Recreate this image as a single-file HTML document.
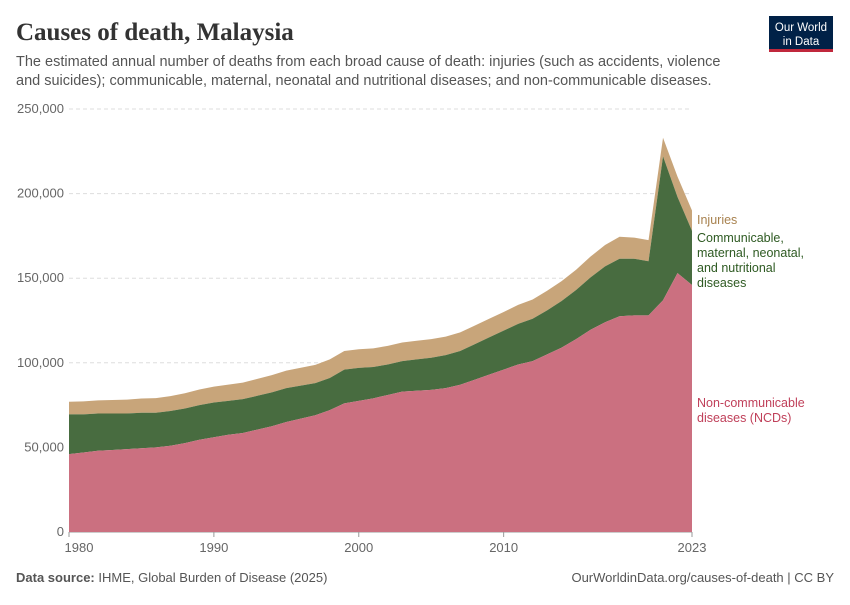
<!DOCTYPE html>
<html><head><meta charset="utf-8"><style>
body{margin:0;background:#fff;font-family:"Liberation Sans",sans-serif;}
svg text{font-family:"Liberation Sans",sans-serif;}
</style></head><body>
<svg width="850" height="600" xmlns="http://www.w3.org/2000/svg">
<text x="16" y="40" font-size="25" font-weight="bold" fill="#333" style="font-family:'Liberation Serif',serif">Causes of death, Malaysia</text>
<text x="16" y="66" font-size="14.5" fill="#555">The estimated annual number of deaths from each broad cause of death: injuries (such as accidents, violence</text>
<text x="16" y="85" font-size="14.5" fill="#555">and suicides); communicable, maternal, neonatal and nutritional diseases; and non-communicable diseases.</text>
<g>
<rect x="769" y="16" width="64" height="34" fill="#002147"/>
<rect x="769" y="49" width="64" height="3" fill="#c0283c"/>
<text x="801" y="31" font-size="11.5" fill="#fff" text-anchor="middle">Our World</text>
<text x="801" y="45" font-size="11.5" fill="#fff" text-anchor="middle">in Data</text>
</g>
<g id="grid"></g>
<g id="areas"></g>
<g id="xaxis"></g>
<g>
<text x="697" y="224" font-size="12.5" fill="#a8824f">Injuries</text>
<text x="697" y="242" font-size="12.5" fill="#2e5a22"><tspan x="697">Communicable,</tspan><tspan x="697" dy="15">maternal, neonatal,</tspan><tspan x="697" dy="15">and nutritional</tspan><tspan x="697" dy="15">diseases</tspan></text>
<text x="697" y="407" font-size="12.5" fill="#c0405a"><tspan x="697">Non-communicable</tspan><tspan x="697" dy="15">diseases (NCDs)</tspan></text>
</g>
<text x="16" y="582" font-size="13" fill="#555"><tspan font-weight="bold">Data source:</tspan> IHME, Global Burden of Disease (2025)</text>
<text x="834" y="582" font-size="13" fill="#555" text-anchor="end">OurWorldinData.org/causes-of-death | CC BY</text>
</svg>
<script>
const years=[];for(let y=1980;y<=2023;y++)years.push(y);
const ncd=[46,47,48,48.5,49,49.5,50,51,52.5,54.5,56,57.5,58.5,60.5,62.5,65,67,69,72,76,77.5,79,81,83,83.5,84,85,87,90,93,96,99,101,105,109,114,119.5,124,127.5,128,128,137,153,146];
const communicable=[23.5,22.5,22,21.5,21,21,20.5,20.5,20.5,20.5,20.5,20,20,20,20,20,19.5,19,19,20,19.5,18.5,18,18,18.5,19,19.5,20,21,22,23,24,25,26,27.5,29,31,33,34,33.5,32,85,45,32];
const injuries=[7.5,7.7,7.8,8,8.2,8.4,8.6,8.8,9,9.2,9.4,9.6,9.8,10,10.2,10.4,10.6,10.8,11,11,11,11,11,11,11,11,11,11,11,11,11,11.2,11.4,11.6,11.8,12,12.3,12.6,13,12.5,12.5,11,12,12];
const yTicks=[0,50000,100000,150000,200000,250000];
const xTicks=[1980,1990,2000,2010,2023];
const NS="http://www.w3.org/2000/svg";
const x=v=>69+(v-1980)*(692-69)/43;
const y=v=>532-v*423/250000;
const mk=(t,a,p)=>{const e=document.createElementNS(NS,t);for(const k in a)e.setAttribute(k,a[k]);p.appendChild(e);return e;};
const grid=document.getElementById('grid');
yTicks.forEach(t=>{
 const l=mk('line',{x1:69,x2:692,y1:y(t),y2:y(t),stroke:t?'#ddd':'#999','stroke-dasharray':t?'4,3':''},grid);
 
 
 const tx=mk('text',{x:64,y:y(t)+4,'font-size':13,fill:'#666','text-anchor':'end'},grid);
 tx.textContent=t.toLocaleString('en-US');
 
 
});
const areas=document.getElementById('areas');
const b1=ncd.map(v=>v*1000);
const b2=ncd.map((v,i)=>(v+communicable[i])*1000);
const b3=b2.map((v,i)=>v+injuries[i]*1000);
const zero=ncd.map(()=>0);
function area(top,bot,fill,name){
 let d='M'+years.map((yr,i)=>x(yr)+','+y(top[i])).join('L');
 for(let i=years.length-1;i>=0;i--)d+='L'+x(years[i])+','+y(bot[i]);
 const p=mk('path',{d:d+'Z',fill:fill},areas);
 
 
}
area(b3,b2,'#c8a57a','area-injuries');
area(b2,b1,'#486c40','area-communicable');
area(b1,zero,'#cb7080','area-ncds');
const xa=document.getElementById('xaxis');
xTicks.forEach(t=>{
 mk('line',{x1:x(t),x2:x(t),y1:532,y2:537,stroke:'#999'},xa);
 const tx=mk('text',{x:x(t)+(t===1980?10:0),y:552,'font-size':13,fill:'#666','text-anchor':'middle'},xa);
 tx.textContent=t;
 
 
});
</script>
</body></html>
